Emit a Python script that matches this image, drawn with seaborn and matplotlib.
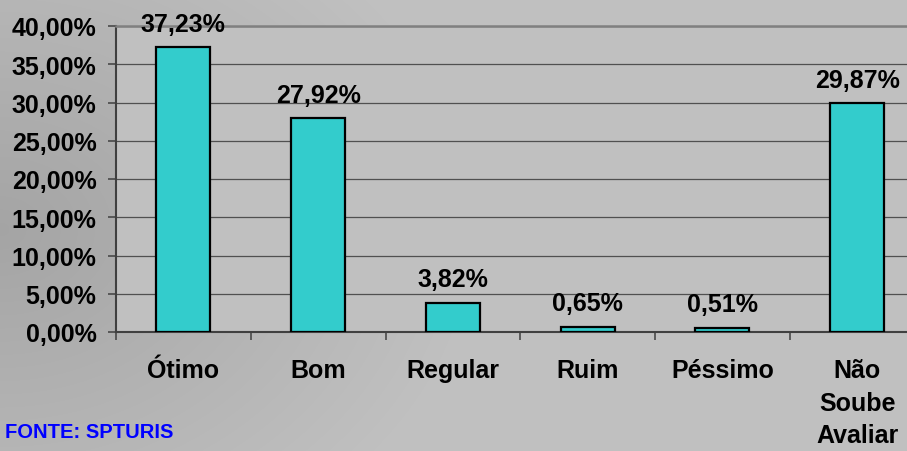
import numpy as np
import matplotlib
matplotlib.use("Agg")
import matplotlib.pyplot as plt
import seaborn as sns
import pandas as pd
from matplotlib.ticker import FuncFormatter, FixedLocator

# Dados do gráfico
categorias = ["Ótimo", "Bom", "Regular", "Ruim", "Péssimo", "Não\nSoube\nAvaliar"]
valores = [37.23, 27.92, 3.82, 0.65, 0.51, 29.87]
rotulos = [f"{v:.2f}".replace(".", ",") + "%" for v in valores]
fonte = "FONTE: SPTURIS"

df = pd.DataFrame({"categoria": categorias, "valor": valores})

sns.set_theme(style="white")
plt.rcParams["font.family"] = ["Liberation Sans", "DejaVu Sans"]
plt.rcParams["font.weight"] = "bold"
plt.rcParams["text.color"] = "black"
plt.rcParams["xtick.labelcolor"] = "black"
plt.rcParams["ytick.labelcolor"] = "black"

fig = plt.figure(figsize=(9.07, 4.52), dpi=100)

# Fundo em degradê (mais escuro à esquerda)
bg = fig.add_axes([0, 0, 1, 1], zorder=-10)
yy, xx = np.mgrid[0:452, 0:907]
d = np.sqrt((xx / 1.0) ** 2 + ((yy - 230) * 1.3) ** 2)
tom = 0.645 + (0.755 - 0.645) * np.clip(d / 480, 0, 1)
bg.imshow(np.dstack([tom, tom, tom]), aspect="auto", extent=[0, 1, 0, 1], origin="upper")
bg.axis("off")

ax = fig.add_axes([116 / 907, 1 - 333 / 452, 808.5 / 907, 306 / 452])
ax.set_facecolor("#C0C0C0")

sns.barplot(data=df, x="categoria", y="valor", ax=ax, color="#33CCCC",
            width=0.4, edgecolor="black", linewidth=1.6, saturation=1, zorder=3)

ax.set_xlim(-0.5, len(categorias) - 0.5)
ax.set_ylim(0, 40)
ax.yaxis.set_major_locator(FixedLocator(np.arange(0, 41, 5)))
ax.yaxis.set_major_formatter(FuncFormatter(lambda v, p: f"{v:.2f}".replace(".", ",") + "%"))
ax.grid(axis="y", color="#505050", linewidth=0.9, zorder=0)
ax.set_axisbelow(True)

ax.set_xlabel("")
ax.set_ylabel("")

# ticks nas divisões das categorias
ax.set_xticks(np.arange(-0.5, len(categorias), 1), minor=True)
ax.tick_params(axis="x", which="minor", length=6, width=1.1, color="#404040", direction="out", bottom=True)
ax.tick_params(axis="x", which="major", length=0, pad=19, labelsize=18, labelcolor="black")
ax.tick_params(axis="y", which="major", length=6, width=1.1, color="#404040", direction="out", left=True,
               pad=8, labelsize=18, labelcolor="black")
for lbl in ax.get_xticklabels():
    lbl.set_fontweight("bold")
    lbl.set_linespacing(1.45)
    lbl.set_verticalalignment("top")
for lbl in ax.get_yticklabels():
    lbl.set_fontweight("bold")

for s in ["left", "bottom"]:
    ax.spines[s].set_color("#404040")
    ax.spines[s].set_linewidth(1.5)
ax.spines["top"].set_color("#808080")
ax.spines["top"].set_linewidth(1.8)
ax.spines["right"].set_visible(False)

for i, (v, r) in enumerate(zip(valores, rotulos)):
    ax.annotate(r, (i, v), xytext=(0, 12), textcoords="offset points",
                ha="center", va="baseline", fontsize=18, fontweight="bold", color="black",
                annotation_clip=False)

fig.text(5 / 907, 1 - 433 / 452, fonte, color="#0000FF", fontsize=14.5, fontweight="bold",
         ha="left", va="center")

fig.savefig("out.png", dpi=100)
